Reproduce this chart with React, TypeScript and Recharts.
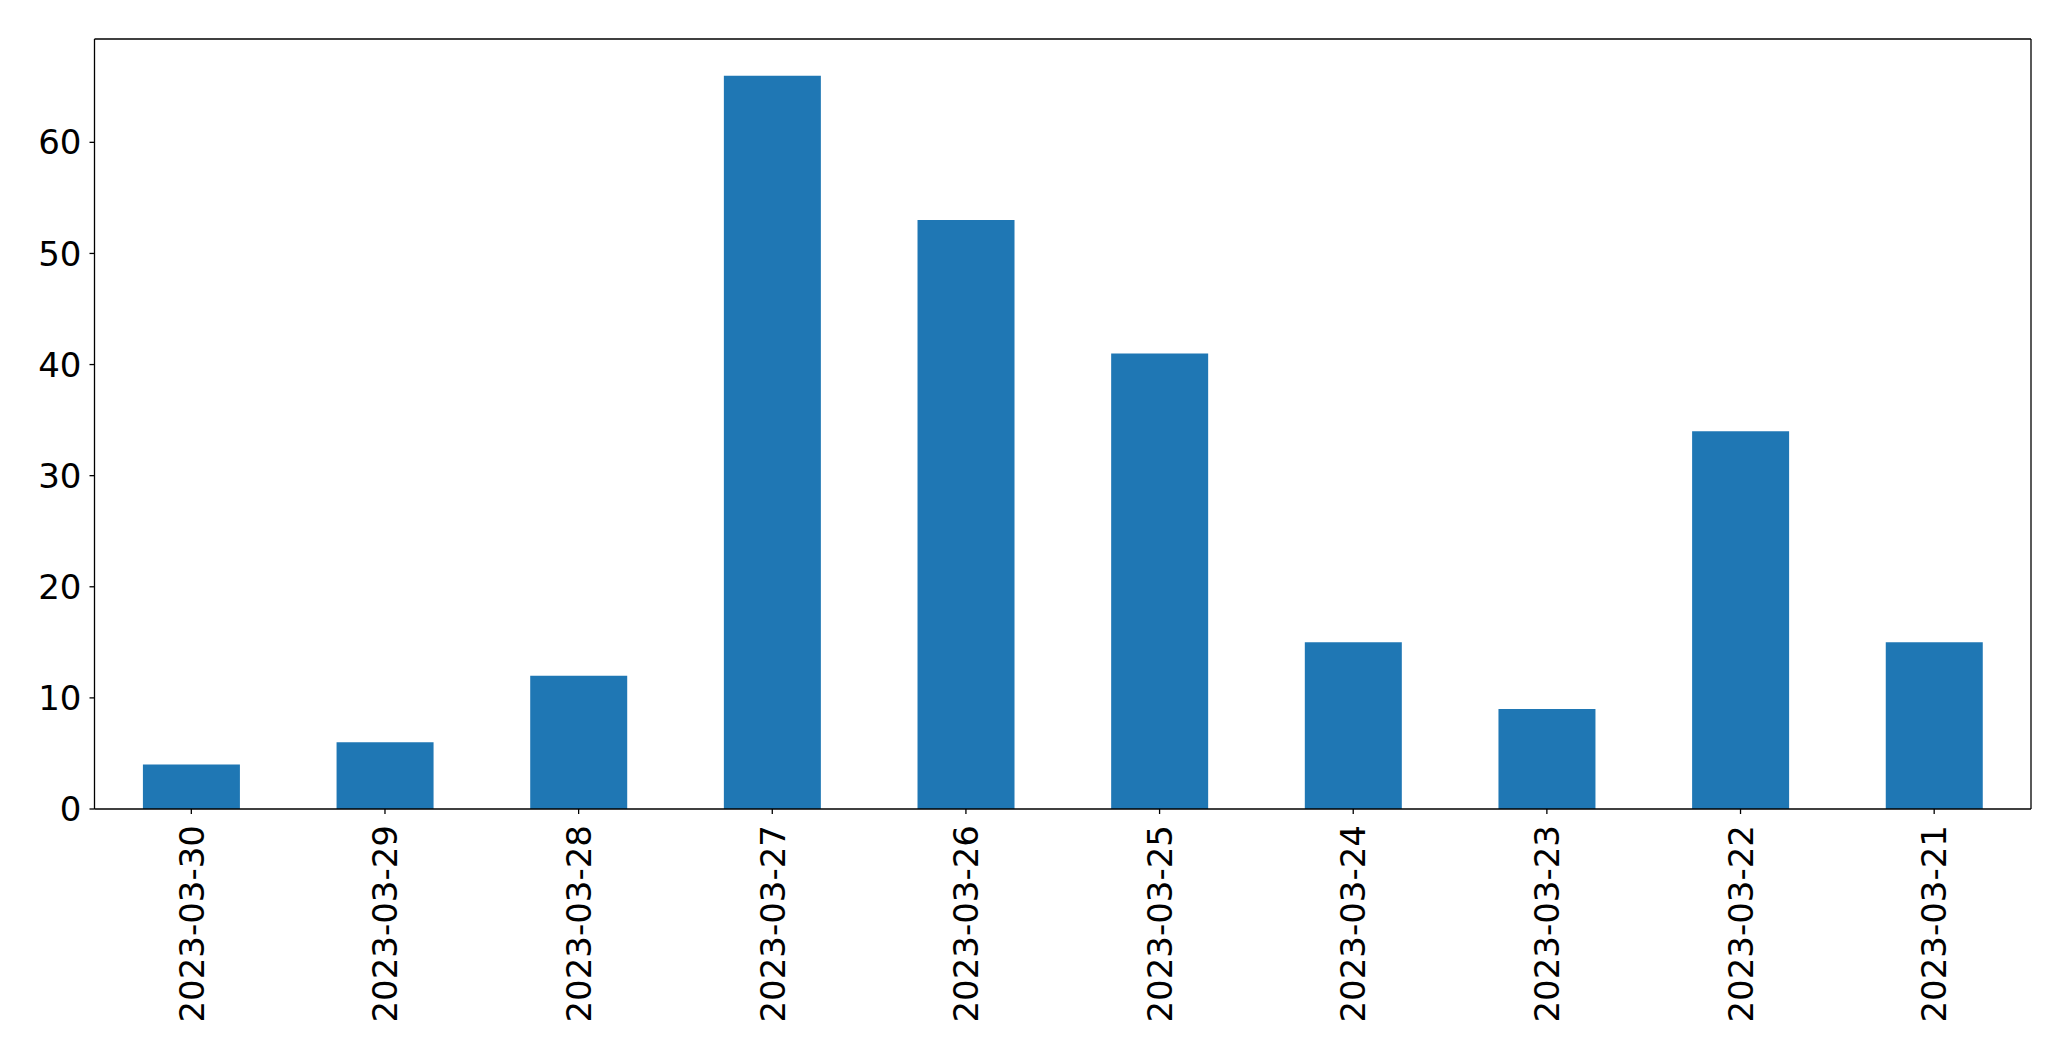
import React from 'react';
import { BarChart, Bar, XAxis, YAxis } from 'recharts';

const dates = ['2023-03-30', '2023-03-29', '2023-03-28', '2023-03-27', '2023-03-26', '2023-03-25', '2023-03-24', '2023-03-23', '2023-03-22', '2023-03-21'];
const counts = [4, 6, 12, 66, 53, 41, 15, 9, 34, 15];
const yTicks = [0, 10, 20, 30, 40, 50, 60];

const FONT = 'DejaVu Sans, sans-serif';
const AXIS = { stroke: '#000', strokeWidth: 1.3 };

const DateTick = ({ x, y, payload }: any) => (
  <text
    x={x}
    y={y + 9}
    transform={`rotate(-90, ${x}, ${y + 9})`}
    textAnchor="end"
    dy="0.36em"
    fontSize={34}
    fontFamily={FONT}
    fill="#000"
  >
    {payload.value}
  </text>
);

export default function App() {
  const data = dates.map((d, i) => ({ date: d, count: counts[i] }));

  return (
    <div style={{ position: 'fixed', top: 0, left: 0, width: 2071, height: 1061, background: '#fff' }}>
      <BarChart width={2071} height={1061} data={data} barCategoryGap="25%" margin={{ top: 38, right: 39, left: 0, bottom: 0 }}>
        <XAxis
          dataKey="date"
          height={252}
          tick={<DateTick />}
          tickLine={AXIS}
          tickSize={5}
          axisLine={AXIS}
          interval={0}
        />
        <XAxis xAxisId="top" orientation="top" dataKey="date" height={1} tick={false} tickLine={false} axisLine={AXIS} />
        <YAxis
          width={94.5}
          domain={[0, 69.3]}
          ticks={yTicks}
          allowDataOverflow
          tick={{ fontSize: 34, fontFamily: FONT, fill: '#000' }}
          tickLine={AXIS}
          tickSize={5}
          tickMargin={8}
          axisLine={AXIS}
        />
        <YAxis yAxisId="right" orientation="right" width={1} domain={[0, 69.3]} tick={false} tickLine={false} axisLine={AXIS} />
        <Bar dataKey="count" fill="#1f77b4" isAnimationActive={false} />
        <Bar dataKey="count" xAxisId="top" yAxisId="right" fill="none" legendType="none" isAnimationActive={false} />
      </BarChart>
    </div>
  );
}
